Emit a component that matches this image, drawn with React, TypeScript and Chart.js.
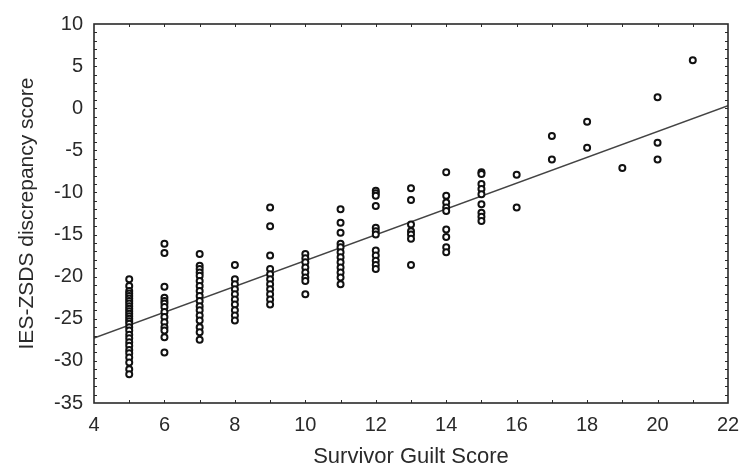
import React, { useEffect, useRef } from 'react';
import { Chart, registerables } from 'chart.js';

Chart.register(...registerables);

// Survivor Guilt Score values (x) present in the data
const guiltScores = [5, 6, 7, 8, 9, 10, 11, 12, 13, 14, 15, 16, 17, 18, 19, 20, 21];

// IES-ZSDS discrepancy scores observed for each guilt score
const disc5 = [-20.3, -21.1, -21.7, -22.0, -22.3, -22.6, -22.9, -23.2, -23.5, -23.8, -24.1, -24.4, -24.7, -25.0, -25.3, -25.6, -26.0, -26.4, -26.9, -27.3, -27.8, -28.2, -28.7, -29.1, -29.6, -30.2, -31.0, -31.6];
const disc6 = [-16.1, -17.2, -21.2, -22.5, -22.9, -23.2, -23.6, -24.2, -24.8, -25.4, -26.0, -26.4, -27.2, -29.0];
const disc7 = [-17.3, -18.7, -19.1, -19.5, -19.9, -20.5, -21.1, -21.7, -22.3, -22.9, -23.5, -24.0, -24.6, -25.2, -26.0, -26.6, -27.5];
const disc8 = [-18.6, -20.3, -20.9, -21.5, -22.1, -22.7, -23.3, -24.0, -24.6, -25.2];
const disc9 = [-11.8, -14.0, -17.5, -19.1, -19.7, -20.3, -20.9, -21.5, -22.1, -22.7, -23.3];
const disc10 = [-17.3, -17.8, -18.3, -18.9, -19.5, -20.1, -20.5, -22.1];
const disc11 = [-12.0, -13.6, -14.8, -16.1, -16.5, -17.1, -17.7, -18.3, -18.9, -19.5, -20.1, -20.9];
const disc12 = [-9.8, -10.1, -10.4, -11.6, -14.2, -14.6, -15.0, -16.9, -17.5, -18.1, -18.6, -19.1];
const disc13 = [-9.5, -10.9, -13.8, -14.6, -15.0, -15.5, -18.6];
const disc14 = [-7.6, -10.4, -11.2, -11.8, -12.2, -14.4, -15.3, -16.5, -17.1];
const disc15 = [-7.6, -7.8, -9.0, -9.6, -10.2, -11.4, -12.4, -12.9, -13.4];
const disc16 = [-7.9, -11.8];
const disc17 = [-3.3, -6.1];
const disc18 = [-1.6, -4.7];
const disc19 = [-7.1];
const disc20 = [1.3, -4.1, -6.1];
const disc21 = [5.7];

const discByScore = [disc5, disc6, disc7, disc8, disc9, disc10, disc11, disc12, disc13, disc14, disc15, disc16, disc17, disc18, disc19, disc20, disc21];

// Fitted regression line end points
const fitX = [4, 22];
const fitY = [-27.3, 0.3];

// Axis ranges and label steps
const xRange = [4, 22];
const yRange = [-35, 10];
const xLabelStep = 2;
const yLabelStep = 5;

const FONT = "'Liberation Sans', Arial, sans-serif";
const INK = '#2a2a2a';

const framePlugin = {
  id: 'frameTicks',
  afterDatasetsDraw(chart: any) {
    const { ctx, chartArea, scales } = chart;
    const { left, right, top, bottom } = chartArea;
    const xs = scales.x;
    const ys = scales.y;
    ctx.save();
    ctx.strokeStyle = INK;
    ctx.lineWidth = 1;
    const tl = 3;
    ctx.beginPath();
    for (let v = xRange[0] + 1; v < xRange[1]; v++) {
      const px = Math.round(xs.getPixelForValue(v)) + 0.5;
      ctx.moveTo(px, bottom);
      ctx.lineTo(px, bottom - tl);
      ctx.moveTo(px, top);
      ctx.lineTo(px, top + tl);
    }
    for (let v = yRange[0] + 1; v < yRange[1]; v++) {
      const py = Math.round(ys.getPixelForValue(v)) + 0.5;
      ctx.moveTo(left, py);
      ctx.lineTo(left + tl, py);
      ctx.moveTo(right, py);
      ctx.lineTo(right - tl, py);
    }
    ctx.stroke();
    ctx.lineWidth = 1.6;
    ctx.strokeRect(left, top, right - left, bottom - top);
    ctx.restore();
  },
};

export default function App() {
  const ref = useRef<HTMLCanvasElement | null>(null);

  useEffect(() => {
    if (!ref.current) return;
    const points: { x: number; y: number }[] = [];
    guiltScores.forEach((g, i) => {
      discByScore[i].forEach((d) => points.push({ x: g, y: d }));
    });

    const chart = new Chart(ref.current, {
      type: 'scatter',
      data: {
        datasets: [
          {
            label: 'Participants',
            data: points,
            pointStyle: 'circle',
            pointRadius: 3,
            pointBorderWidth: 2,
            pointBorderColor: '#111111',
            pointBackgroundColor: '#ffffff',
            order: 0,
          },
          {
            type: 'line',
            label: 'Fit',
            data: fitX.map((x, i) => ({ x, y: fitY[i] })),
            borderColor: '#444444',
            borderWidth: 1.5,
            pointRadius: 0,
            fill: false,
            order: 1,
          } as any,
        ],
      },
      options: {
        responsive: false,
        animation: false,
        layout: { padding: { top: 24, right: 13, left: 0, bottom: 0 } },
        plugins: {
          legend: { display: false },
          tooltip: { enabled: false },
        },
        scales: {
          x: {
            type: 'linear',
            min: xRange[0],
            max: xRange[1],
            grid: { display: false, drawTicks: false },
            border: { display: false },
            ticks: {
              stepSize: xLabelStep,
              padding: 10,
              color: INK,
              font: { family: FONT, size: 20 },
              callback: (v: any) => String(v),
            },
            title: {
              display: true,
              text: 'Survivor Guilt Score',
              color: INK,
              font: { family: FONT, size: 22 },
              padding: { top: 0, bottom: 2 },
            },
            afterFit: (s: any) => {
              s.height = 69;
              s.paddingLeft = 0;
              s.paddingRight = 0;
            },
          },
          y: {
            type: 'linear',
            min: yRange[0],
            max: yRange[1],
            grid: { display: false, drawTicks: false },
            border: { display: false },
            ticks: {
              stepSize: yLabelStep,
              padding: 11,
              color: INK,
              font: { family: FONT, size: 20 },
              callback: (v: any) => String(v),
            },
            title: {
              display: true,
              text: 'IES-ZSDS discrepancy score',
              color: INK,
              font: { family: FONT, size: 21 },
              padding: { top: 15, bottom: 0 },
            },
            afterFit: (s: any) => {
              s.width = 94;
              s.paddingTop = 0;
              s.paddingBottom = 0;
            },
          },
        },
      },
      plugins: [framePlugin],
    });
    return () => chart.destroy();
  }, []);

  return (
    <div style={{ position: 'fixed', left: 0, top: 0, width: 741, height: 472, background: '#fff' }}>
      <canvas ref={ref} width={741} height={472} style={{ display: 'block' }} />
    </div>
  );
}
